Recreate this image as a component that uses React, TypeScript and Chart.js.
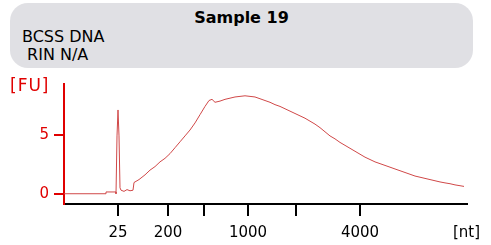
import React, { useEffect, useRef } from 'react';
import { Chart, registerables } from 'chart.js';

Chart.register(...registerables);

// migration position (arbitrary time units) and fluorescence [FU]
const timeValues = [
  0, 42, 42, 52, 52, 53, 54, 55, 56, 57, 60, 63, 66, 69, 70, 75, 81, 86, 91, 96,
  101, 106, 111, 116, 121, 126, 131, 136, 141, 145, 148, 151, 156, 161, 166, 171,
  176, 181, 186, 191, 196, 201, 206, 211, 216, 221, 226, 231, 236, 241, 246, 251,
  256, 261, 266, 271, 276, 281, 286, 291, 296, 301, 306, 311, 316, 321, 326, 331,
  336, 341, 346, 351, 356, 361, 366, 371, 376, 381, 386, 391, 396, 400,
];
const fuValues = [
  0, 0, 0.15, 0.15, 0.0, 4.9, 7.1, 4.9, 0.5, 0.3, 0.2, 0.35, 0.25, 0.3, 0.95, 1.2, 1.6, 2.0, 2.3, 2.7,
  3.0, 3.4, 3.9, 4.4, 4.9, 5.4, 6.0, 6.7, 7.4, 7.9, 8.0, 7.75, 7.85, 8.0, 8.1, 8.2,
  8.25, 8.3, 8.25, 8.2, 8.05, 7.9, 7.75, 7.55, 7.4, 7.2, 7.0, 6.8, 6.6, 6.4, 6.15, 5.9,
  5.6, 5.25, 4.9, 4.65, 4.35, 4.1, 3.85, 3.6, 3.35, 3.1, 2.9, 2.7, 2.55, 2.4, 2.25, 2.1,
  1.95, 1.8, 1.65, 1.5, 1.4, 1.3, 1.2, 1.1, 1.0, 0.92, 0.85, 0.75, 0.68, 0.62,
];

const xTickPositions = [54, 104, 140, 184, 232, 296];
const xTickLabels = ['25', '200', '', '1000', '', '4000'];
const yTickValues = [0, 5];

const RED = '#e00000';
const LINE = '#d04848';
const FONT = '"DejaVu Sans", Verdana, sans-serif';

export default function App() {
  const ref = useRef<HTMLCanvasElement | null>(null);

  useEffect(() => {
    if (!ref.current) return;
    const chart = new Chart(ref.current, {
      type: 'line',
      data: {
        datasets: [
          {
            data: timeValues.map((t, i) => ({ x: t, y: fuValues[i] })),
            borderColor: LINE,
            borderWidth: 1,
            pointRadius: 0,
            tension: 0,
            fill: false,
          },
        ],
      },
      options: {
        animation: false,
        responsive: false,
        maintainAspectRatio: false,
        layout: { padding: { top: 84, right: 24, left: 0, bottom: 0 } },
        plugins: { legend: { display: false }, tooltip: { enabled: false } },
        scales: {
          x: {
            type: 'linear',
            min: 0,
            max: 403,
            afterBuildTicks: (s: any) => {
              s.ticks = xTickPositions.map((v) => ({ value: v }));
            },
            afterFit: (s: any) => {
              s.height = 41;
            },
            ticks: {
              autoSkip: false,
              maxRotation: 0,
              color: '#000',
              font: { family: FONT, size: 15 },
              padding: 8,
              callback: (v: any) => {
                const i = xTickPositions.indexOf(Number(v));
                return i >= 0 ? xTickLabels[i] : '';
              },
            },
            grid: {
              display: true,
              drawOnChartArea: false,
              drawTicks: true,
              tickLength: 12,
              color: '#000',
              lineWidth: 2,
            },
            border: { display: true, color: '#000', width: 2 },
          },
          y: {
            type: 'linear',
            min: -0.87,
            max: 9.3,
            afterBuildTicks: (s: any) => {
              s.ticks = yTickValues.map((v) => ({ value: v }));
            },
            afterFit: (s: any) => {
              s.width = 64;
            },
            ticks: {
              color: RED,
              font: { family: FONT, size: 15 },
              padding: 5,
              callback: (v: any) => String(v),
            },
            grid: {
              display: true,
              drawOnChartArea: false,
              drawTicks: true,
              tickLength: 10,
              color: RED,
              lineWidth: 2,
            },
            border: { display: true, color: RED, width: 2 },
          },
        },
      },
    });
    return () => chart.destroy();
  }, []);

  return (
    <div style={{ position: 'absolute', left: 0, top: 0, width: 491, height: 245, background: '#fff', fontFamily: FONT }}>
      <div
        style={{
          position: 'absolute',
          left: 10,
          top: 3,
          width: 463,
          height: 65,
          background: '#e0e0e4',
          borderRadius: 18,
        }}
      />
      <div style={{ position: 'absolute', left: 10, width: 463, top: 8, textAlign: 'center', fontWeight: 'bold', fontSize: 16, lineHeight: '20px', color: '#000' }}>
        Sample 19
      </div>
      <div style={{ position: 'absolute', left: 22, top: 27, fontSize: 16, lineHeight: '20px', color: '#000', whiteSpace: 'pre' }}>
        BCSS DNA
      </div>
      <div style={{ position: 'absolute', left: 22, top: 45, fontSize: 16, lineHeight: '20px', color: '#000', whiteSpace: 'pre' }}>
        {' RIN N/A'}
      </div>
      <canvas ref={ref} width={491} height={245} style={{ position: 'absolute', left: 0, top: 0 }} />
      <div style={{ position: 'absolute', left: 10, top: 75, fontSize: 17, lineHeight: '20px', color: RED, letterSpacing: 1 }}>
        [FU]
      </div>
      <div style={{ position: 'absolute', left: 453, top: 222, fontSize: 15, lineHeight: '20px', color: '#000' }}>
        [nt]
      </div>
    </div>
  );
}
